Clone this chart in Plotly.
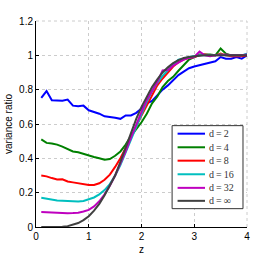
import plotly.graph_objects as go

z = [0.1, 0.2, 0.3, 0.4, 0.5, 0.6, 0.7, 0.8, 0.9, 1.0,
     1.1, 1.2, 1.3, 1.4, 1.5, 1.6, 1.7, 1.8, 1.9, 2.0,
     2.1, 2.2, 2.3, 2.4, 2.5, 2.6, 2.7, 2.8, 2.9, 3.0,
     3.1, 3.2, 3.3, 3.4, 3.5, 3.6, 3.7, 3.8, 3.9, 4.0]

d2 = [0.752, 0.792, 0.738, 0.736, 0.736, 0.742, 0.707, 0.703, 0.707, 0.680,
      0.672, 0.660, 0.645, 0.642, 0.636, 0.630, 0.650, 0.650, 0.665, 0.690,
      0.720, 0.735, 0.770, 0.800, 0.825, 0.855, 0.885, 0.905, 0.925, 0.935,
      0.942, 0.947, 0.955, 0.965, 0.990, 0.980, 0.980, 0.990, 0.980, 1.000]

d4 = [0.510, 0.490, 0.487, 0.480, 0.468, 0.455, 0.440, 0.435, 0.425, 0.415,
      0.408, 0.400, 0.392, 0.396, 0.415, 0.440, 0.480, 0.530, 0.570, 0.610,
      0.660, 0.720, 0.760, 0.815, 0.850, 0.875, 0.910, 0.945, 0.975, 0.990,
      1.005, 1.005, 1.005, 1.000, 1.040, 1.010, 1.000, 1.000, 1.000, 1.000]

d8 = [0.300, 0.295, 0.285, 0.277, 0.278, 0.265, 0.260, 0.255, 0.248, 0.245,
      0.245, 0.255, 0.275, 0.305, 0.350, 0.400, 0.460, 0.520, 0.585, 0.650,
      0.710, 0.770, 0.825, 0.865, 0.900, 0.935, 0.960, 0.975, 0.985, 0.990,
      1.000, 1.005, 1.000, 1.000, 1.010, 1.000, 0.995, 0.995, 0.995, 1.000]

d16 = [0.171, 0.165, 0.158, 0.155, 0.153, 0.151, 0.147, 0.148, 0.152, 0.160,
       0.172, 0.190, 0.215, 0.250, 0.300, 0.360, 0.435, 0.510, 0.590, 0.660,
       0.730, 0.790, 0.840, 0.880, 0.915, 0.945, 0.975, 0.980, 0.990, 0.995,
       1.000, 1.000, 1.000, 1.000, 1.005, 1.000, 1.000, 1.000, 1.000, 1.010]

d32 = [0.087, 0.085, 0.082, 0.081, 0.080, 0.080, 0.081, 0.083, 0.090, 0.100,
       0.120, 0.150, 0.190, 0.240, 0.300, 0.365, 0.440, 0.520, 0.600, 0.670,
       0.740, 0.795, 0.845, 0.912, 0.915, 0.940, 0.960, 0.975, 0.985, 0.990,
       1.022, 1.000, 0.995, 1.000, 1.000, 1.005, 1.000, 1.000, 1.000, 1.005]

dinf = [0.000, 0.000, 0.000, 0.0005, 0.002, 0.005, 0.012, 0.023, 0.040, 0.063,
        0.095, 0.135, 0.185, 0.240, 0.300, 0.380, 0.465, 0.550, 0.630, 0.700,
        0.760, 0.815, 0.860, 0.900, 0.930, 0.955, 0.972, 0.984, 0.990, 0.995,
        0.998, 1.000, 1.000, 1.000, 1.000, 1.000, 1.000, 1.000, 1.000, 1.000]

names = ["d\u2009=\u20092", "d\u2009=\u20094", "d\u2009=\u20098",
         "d\u2009=\u200916", "d\u2009=\u200932", "d\u2009=\u2009\u221e"]
series = [d2, d4, d8, d16, d32, dinf]
colors = ["#0000ff", "#008000", "#ff0000", "#00bfbf", "#bf00bf", "#404040"]

SANS = "Liberation Sans, Arial, sans-serif"
SERIF = "Liberation Serif, DejaVu Serif, serif"

fig = go.Figure()
for nm, ys, c in zip(names, series, colors):
    fig.add_trace(go.Scatter(x=z, y=ys, mode="lines", name=nm, showlegend=False,
                             line=dict(color=c, width=2)))

axis_common = dict(
    showline=True, linecolor="black", linewidth=1,
    ticks="inside", ticklen=3, tickcolor="black",
    showgrid=True, gridcolor="#cccccc", griddash="dot", gridwidth=1,
    zeroline=False, automargin=False,
    tickfont=dict(family=SANS, size=10, color="black"),
)

shapes = [
    dict(type="line", xref="paper", yref="paper", x0=0, x1=1, y0=1, y1=1,
         line=dict(color="#cccccc", width=1, dash="dot"), layer="below"),
    dict(type="line", xref="paper", yref="paper", x0=1, x1=1, y0=0, y1=1,
         line=dict(color="#cccccc", width=1, dash="dot"), layer="below"),
    dict(type="rect", xref="paper", yref="paper", x0=0.645, x1=0.981, y0=0.089, y1=0.492,
         fillcolor="white", line=dict(color="#333333", width=1), layer="above"),
]
annotations = []
row_y = [0.453, 0.387, 0.322, 0.256, 0.190, 0.127]
for nm, c, ry in zip(names, colors, row_y):
    shapes.append(dict(type="line", xref="paper", yref="paper", x0=0.671, x1=0.801,
                       y0=ry, y1=ry, line=dict(color=c, width=2), layer="above"))
    annotations.append(dict(x=0.812, y=ry, xref="paper", yref="paper", text=nm,
                            showarrow=False, xanchor="left", yanchor="middle",
                            font=dict(family=SERIF, size=10, color="#333333")))

fig.update_layout(
    width=274, height=256,
    margin=dict(l=36, r=27, t=21, b=29),
    paper_bgcolor="white", plot_bgcolor="white",
    xaxis=dict(range=[0, 4], tickvals=[0, 1, 2, 3, 4],
               title=dict(text="z", standoff=4, font=dict(family=SANS, size=10, color="black")),
               **axis_common),
    yaxis=dict(range=[0, 1.2], tickvals=[0, 0.2, 0.4, 0.6, 0.8, 1, 1.2],
               ticktext=["0", "0.2", "0.4", "0.6", "0.8", "1", "1.2"],
               title=dict(text="variance ratio", standoff=4, font=dict(family=SANS, size=10, color="black")),
               **axis_common),
    shapes=shapes,
    annotations=annotations,
    showlegend=False,
)

fig.write_html("out.html", config={"displayModeBar": False},
               post_script="document.body.style.margin='0';document.body.style.padding='0';")
